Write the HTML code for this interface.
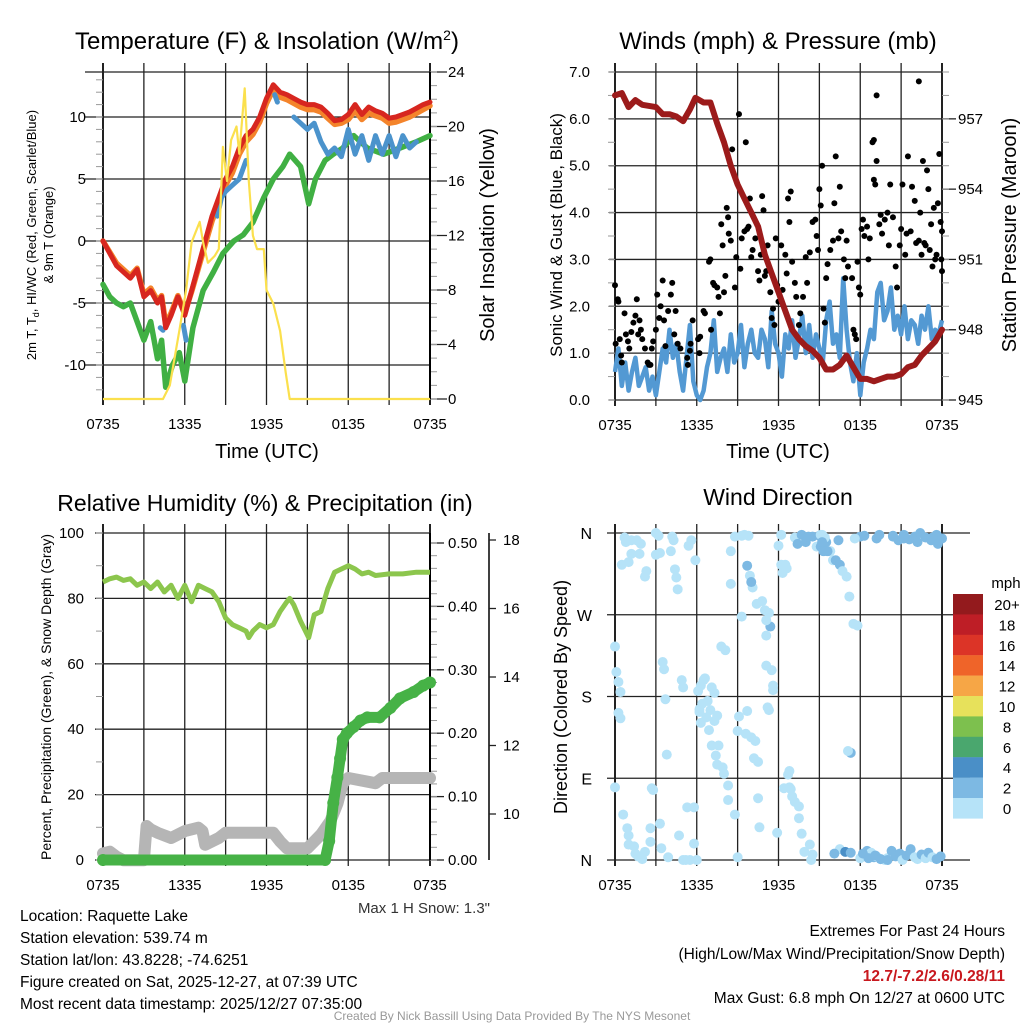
<!DOCTYPE html>
<html><head><meta charset="utf-8"><style>
html,body{margin:0;padding:0;background:#fff;}
svg{display:block;font-family:"Liberation Sans",sans-serif;}
</style></head><body>
<svg id="chart" width="1024" height="1024" viewBox="0 0 1024 1024" xmlns="http://www.w3.org/2000/svg">
<text x="267" y="49" font-size="24" text-anchor="middle">Temperature (F) &amp; Insolation (W/m<tspan dy="-9" font-size="14">2</tspan><tspan dy="9">)</tspan></text>
<text x="778" y="49" font-size="24" text-anchor="middle">Winds (mph) &amp; Pressure (mb)</text>
<text x="265" y="511" font-size="23" text-anchor="middle">Relative Humidity (%) &amp; Precipitation (in)</text>
<text x="778" y="505" font-size="23" text-anchor="middle">Wind Direction</text>
<text x="267" y="458" font-size="20" text-anchor="middle">Time (UTC)</text>
<text x="778" y="458" font-size="20" text-anchor="middle">Time (UTC)</text>
<text transform="translate(36,235) rotate(-90)" font-size="13" text-anchor="middle">2m T, T<tspan font-size="9" dy="3">d</tspan><tspan dy="-3">, HI/WC (Red, Green, Scarlet/Blue)</tspan></text>
<text transform="translate(53,235) rotate(-90)" font-size="13" text-anchor="middle">&amp; 9m T (Orange)</text>
<text transform="translate(494,235) rotate(-90)" font-size="20" text-anchor="middle">Solar Insolation (Yellow)</text>
<text transform="translate(562,235) rotate(-90)" font-size="17" text-anchor="middle">Sonic Wind &amp; Gust (Blue, Black)</text>
<text transform="translate(1016,235) rotate(-90)" font-size="20" text-anchor="middle">Station Pressure (Maroon)</text>
<text transform="translate(51,697) rotate(-90)" font-size="14" text-anchor="middle">Percent, Precipitation (Green), &amp; Snow Depth (Gray)</text>
<text transform="translate(567,697) rotate(-90)" font-size="18" text-anchor="middle">Direction (Colored By Speed)</text>
<text x="490" y="913" font-size="15" text-anchor="end" fill="#333">Max 1 H Snow: 1.3"</text>
<g font-size="15.5">
<text x="20" y="921">Location: Raquette Lake</text>
<text x="20" y="943">Station elevation: 539.74 m</text>
<text x="20" y="965">Station lat/lon: 43.8228; -74.6251</text>
<text x="20" y="987">Figure created on Sat, 2025-12-27, at 07:39 UTC</text>
<text x="20" y="1009">Most recent data timestamp: 2025/12/27 07:35:00</text>
</g>
<g font-size="15.5" text-anchor="end">
<text x="1005" y="936">Extremes For Past 24 Hours</text>
<text x="1005" y="959">(High/Low/Max Wind/Precipitation/Snow Depth)</text>
<text x="1005" y="981" fill="#c8181e" font-weight="bold">12.7/-7.2/2.6/0.28/11</text>
<text x="1005" y="1003">Max Gust: 6.8 mph On 12/27 at 0600 UTC</text>
</g>
<text x="512" y="1020" font-size="12" fill="#999" text-anchor="middle">Created By Nick Bassill Using Data Provided By The NYS Mesonet</text>
</svg>
<script>
// ---- shared ----
const timeTickHours = [0, 6, 12, 18, 24];
const timeTickLabels = ['0735', '1335', '1935', '0135', '0735'];
// ---- temperature panel data ----
const tempT = [0,1,2,2.5,3,3.5,4,4.3,4.6,5,5.5,6,6.5,7,7.5,8,8.5,9,9.5,10,10.5,11,11.5,12,12.5,13,13.5,14,14.5,15,15.5,16,16.5,17,17.5,18,18.5,19,19.5,20,20.5,21,21.5,22,22.5,23,23.5,24];
const redT = [0,-2,-3,-2.3,-4.5,-4,-5,-4.5,-7,-6,-4.5,-6,-4,-2,0,2,3.5,5,6,7.5,8.5,9,10,11.5,12.6,12,11.8,11.5,11.2,11,11,10.8,10.3,9.7,9.8,10.2,11,10.2,10.8,10.5,10.3,9.9,10,10.2,10.4,10.7,11,11.2];
const orangeT = [0,-1.8,-2.8,-2.2,-4.3,-3.8,-4.8,-4.4,-6.7,-5.8,-4.4,-5.8,-4.1,-2.2,-0.3,1.6,3.1,4.5,5.5,7,8,8.6,9.6,11.1,12.2,11.6,11.4,11.1,10.8,10.6,10.6,10.4,9.9,9.4,9.5,9.8,10.5,9.8,10.3,10.1,9.9,9.5,9.6,9.8,10,10.3,10.6,10.9];
const greenTdT = [0,0.5,1,1.5,2,2.5,3,3.5,4,4.3,4.6,5.1,5.6,6,6.6,7.35,8.1,8.8,9.6,10.3,11,11.8,12.5,13.2,13.7,14.5,15.1,15.6,16.3,16.9,17.6,18.4,19.4,20.6,21.8,23,24];
const greenTd = [-3.5,-4.5,-5,-5.3,-5,-6.5,-8,-6.5,-9.5,-8,-11.8,-10,-9,-11.3,-7,-4,-2.5,-1,0,0.5,1.5,3.5,5,6,7,6,3,5,6.5,7,7.5,8.5,7.5,7,7.5,8,8.5];
const blueT = [4.2,4.4,null,5.9,6.1,null,8.4,8.7,9.0,9.5,10.0,10.5,null,12.6,12.8,null,14.0,14.5,15.0,15.5,16.0,16.5,17.0,17.5,18.0,18.5,19.0,19.5,20.0,20.5,21.0,21.5,22.0,22.5,23.0];
const blueWC = [-7,-7.2,null,-6.8,-8,null,2,3.5,4,4.5,5,6.5,null,11.8,11.2,null,10,9.5,9,9.5,8,7,7.5,6.8,9,7,8.5,6.5,8.5,7,8.5,6.8,8.5,7.5,8];
const solarT = [0,4.4,4.9,5.6,6.1,6.5,6.9,7.1,7.35,7.7,8.2,8.5,8.8,9.1,9.4,9.8,10,10.4,10.7,11,11.3,11.8,12,12.5,13,13.4,13.7,24];
const solarW = [0,0,1,5,8,11.5,12.5,13,11.5,10,10.5,11,18.5,16,19,20,18,22.8,16,12,11,11,8,7,5,2,0,0];
const tempTicks = [-10,-5,0,5,10];
const solarTicks = [0,4,8,12,16,20,24];
// ---- wind panel data ----
const windSpeed = [0.6,1.1,0.3,0.8,0.2,0.6,0.9,0.3,0.5,0.7,0.2,0.5,0.1,0.6,1.1,0.8,1.5,0.9,1.2,0.6,0.2,0.9,1.6,0.4,0.1,0.0,0.2,0.7,1.0,1.7,0.6,0.9,1.1,0.6,1.4,0.8,1.0,1.6,0.7,1.2,1.5,1.0,0.9,1.5,1.3,0.7,1.9,1.2,1.0,0.5,1.4,1.1,1.7,0.9,1.3,1.8,1.0,1.6,0.9,1.4,1.1,0.8,1.7,2.1,1.2,1.4,0.9,2.6,1.5,0.8,0.4,1.0,0.1,0.8,1.1,1.5,1.3,2.3,2.5,1.7,1.9,2.4,1.5,1.8,1.4,2.0,1.3,1.7,1.6,1.2,1.8,1.5,2.0,1.3,1.5,1.4,1.7];
const gustT = [0.0,0.05,0.2,0.25,0.35,0.45,0.5,0.7,0.8,0.95,1.05,1.2,1.35,1.5,1.6,1.7,1.8,1.9,2.0,2.2,2.4,2.5,2.6,2.7,2.8,3.0,3.1,3.25,3.35,3.5,3.6,3.7,3.9,4.1,4.2,4.35,4.45,4.6,4.8,5.3,5.35,5.5,5.55,5.7,6.1,6.2,6.25,6.5,6.6,6.9,7.0,7.05,7.2,7.3,7.5,7.6,7.7,7.8,7.9,8.0,8.1,8.2,8.3,8.35,8.5,8.6,8.8,8.9,9.1,9.2,9.3,9.5,9.6,9.7,9.8,9.9,10.0,10.1,10.3,10.5,10.6,10.7,10.8,10.9,11.0,11.1,11.2,11.4,11.5,11.6,11.7,11.8,11.9,12.0,12.2,12.3,12.5,12.6,12.7,12.8,12.9,13.0,13.2,13.3,13.5,13.6,13.8,14.0,14.1,14.3,14.5,14.7,14.8,14.9,15.0,15.1,15.2,15.3,15.4,15.5,15.6,15.8,16.0,16.1,16.2,16.4,16.5,16.6,16.8,16.9,17.0,17.1,17.4,17.5,17.6,17.7,17.8,17.9,18.0,18.1,18.2,18.3,18.5,18.6,18.7,18.9,19.0,19.1,19.2,19.4,19.5,19.6,19.8,20.0,20.1,20.2,20.4,20.6,20.7,20.9,21.0,21.1,21.3,21.4,21.5,21.7,21.8,22.0,22.1,22.3,22.4,22.5,22.6,22.7,22.8,22.9,23.0,23.1,23.2,23.3,23.4,23.5,23.6,23.7,23.8,23.9,24.0,22.3,19.2,24.0,23.95,19.0];
const gustV = [2.45,1.2,2.15,2.1,1.3,0.95,0.8,1.85,1.4,1.25,1.1,1.45,1.65,1.8,2.15,1.4,1.7,1.5,1.3,1.1,0.8,0.75,0.75,1.1,1.25,1.5,2.25,1.75,2.0,2.55,1.7,1.15,1.9,2.25,2.5,1.4,1.9,1.2,1.1,0.9,0.75,1.05,1.2,1.7,1.3,1.0,1.35,1.9,1.85,2.95,3.0,1.5,2.5,2.45,2.4,2.2,1.85,3.75,3.3,2.3,2.65,4.1,3.9,3.55,3.4,5.35,2.4,3.05,6.1,2.8,3.45,3.6,5.5,3.65,3.7,4.3,3.05,3.2,3.45,2.75,2.55,3.1,4.35,4.05,2.65,2.75,3.3,2.3,1.75,1.95,1.6,3.45,2.45,2.1,3.3,2.35,3.1,2.7,4.3,3.8,4.45,2.95,2.5,2.2,1.6,1.85,2.2,3.05,2.5,3.15,3.8,3.85,3.5,3.2,4.5,4.15,5.0,1.95,1.65,2.6,2.9,3.2,3.4,4.2,5.2,3.45,4.55,3.6,3.0,2.6,3.4,2.85,2.6,1.5,1.4,1.3,2.95,2.4,2.25,3.65,3.85,3.5,3.7,3.0,3.45,5.5,4.7,4.6,5.1,3.75,3.95,3.55,3.85,4.0,3.3,4.6,3.9,2.85,2.4,3.3,3.65,4.6,3.1,3.55,5.2,3.6,4.55,4.25,3.35,3.4,4.0,3.1,5.1,3.35,3.3,4.9,4.5,3.2,3.75,2.85,4.1,3.0,3.1,4.2,5.25,3.8,3.6,6.8,6.5,2.75,3.0,5.55];
const presT = [0,0.5,1,1.5,2,3,3.5,4,4.5,5,5.5,5.9,6.5,7,7.5,8,8.5,9,9.5,10,10.5,11,11.5,12,12.5,13,13.5,14,14.5,15,15.5,16,16.5,17,17.5,18,18.5,19,19.5,20,20.5,21,21.5,22,22.5,23,23.5,24];
const presMb = [958,958.1,957.5,957.8,957.6,957.5,957.2,957.2,957.1,956.9,957.4,957.9,957.7,957.7,956.8,956,955,954.2,953.6,953,952.4,951.2,950.4,949.6,948.8,948,947.6,947.3,947.1,946.8,946.3,946.3,946.5,946.9,946.4,945.9,945.9,945.8,945.9,946,946,946.1,946.4,946.5,946.9,947.2,947.5,948];
const windTicks = [0,1,2,3,4,5,6,7];
const presTicks = [945,948,951,954,957];
// ---- humidity panel data ----
const rhT = [0,0.5,1,1.5,2,2.5,3,3.5,4,4.5,5,5.5,6,6.5,7,7.5,8,8.5,9,9.5,10,10.5,10.7,11,11.5,12,12.5,13,13.5,13.7,14,14.5,15.1,15.5,16,16.5,17,17.5,18,18.5,19,19.5,20,21,22,23,24];
const rhV = [85,86,86.5,85.5,86,84,85,83,85,82,84,80,84,79,84,83,82,79,74,72,71,70,68,70,72,71,72,76,79,80,78,73,68,75,76,83,88,89,90,89,87.5,88,87,87.5,87.5,88,88];
const precipT = [0,16.3,16.6,16.9,17.2,17.4,17.6,17.9,18.4,18.9,19.4,20.3,21.1,21.8,22.8,23.5,24];
const precipIn = [0,0,0.03,0.09,0.13,0.16,0.19,0.2,0.21,0.22,0.225,0.225,0.24,0.255,0.265,0.275,0.28];
const snowT = [0,0.5,1,1.5,3,3.2,3.5,4,5,6,7,7.3,7.5,8,8.5,9,12.5,13,13.5,15,15.5,16,16.7,17.2,17.6,18,20,20.5,24];
const snowIn = [8.85,8.9,8.75,8.65,8.65,9.65,9.55,9.45,9.3,9.5,9.6,9.5,9.1,9.2,9.3,9.45,9.45,9.2,9.0,9.0,9.2,9.4,9.8,10.3,10.9,11.05,10.9,11.05,11.05];
const rhTicks = [0,20,40,60,80,100];
const precipTicks = [0,0.1,0.2,0.3,0.4,0.5];
const snowTicks = [10,12,14,16,18];
// ---- wind direction data ----
const dirT = [0,0.1,0.25,0.4,0.25,0.4,0,0.6,0.9,1,1,1.4,1.5,1.7,2,2.2,2.6,2.6,0.7,0.8,1.2,1.6,1.9,0.5,1.0,1.2,1.8,2.2,2.3,3.0,3.2,3.3,3.0,4.2,4.3,4.1,4.4,4.6,4.5,3.5,3.6,3.7,3.8,2.7,2.8,3.3,3.4,3.9,4.7,5,5.2,5.5,5.3,5.8,5.8,6,5.4,5.6,5.9,4.9,5.0,6.1,6.3,6.5,6.2,6.4,6.8,6.3,6.7,6.2,6.6,7.1,7.0,7.3,7.5,7.3,6.9,7.1,7.5,7.9,7.4,7.6,8.3,8.0,8.3,8.8,9.0,8.5,8.8,9.3,7.8,8.1,8.5,9.0,9.1,9.6,9.7,10.0,10.3,10.5,10.2,10.5,10.6,11.4,11.1,11.0,11.3,11.1,11.5,11.1,11.6,11.6,11.2,11.3,9.3,9.5,9.8,9.7,9.9,10.1,10.0,10.4,10.8,12.2,12.0,12.2,12.3,12.5,12.6,11.9,12.4,12.8,12.9,12.7,12.8,13.0,13.2,13.5,13.7,13.5,13.9,14.3,14.5,14.4,13.2,13.4,13.7,14.0,14.2,14.5,15.0,15.2,14.8,15.5,15.8,16.0,15.1,15.4,15.6,16.2,16.5,16.7,17.0,17.2,17.5,17.8,18.0,18.2,18.5,18.8,19.0,19.2,19.5,19.8,20.0,20.3,20.6,20.9,21.1,21.4,21.7,22.0,22.2,22.5,22.8,23.0,23.3,23.6,23.9,18.2,18.6,19.1,19.5,20.0,20.4,20.8,21.2,21.6,22.0,22.4,22.8,23.2,23.6,24.0,18.0,18.3,19.2,19.4,20.4,21.2,22.2,23.3,23.7,15.1,15.3,16.4,17.6,15.2,16.5,16.9,17.3,17.1,17.3,16.1];
const dirD = [235,207,196,185,162,156,80,50,35,27,17,15,7,4,1,9,20,35,355,350,352,352,348,325,328,337,337,312,318,360,357,338,336,356,352,340,320,298,311,218,210,177,116,79,77,40,13,3,27,0,0,0,58,18,58,0,346,352,330,198,190,186,192,198,166,172,175,151,157,163,200,190,165,184,159,153,143,126,105,102,115,126,82,95,66,50,3,340,356,268,235,231,304,142,158,139,164,135,131,108,112,68,36,257,264,275,272,214,209,247,187,192,168,165,357,358,357,324,313,300,306,282,285,358,346,325,316,325,321,30,79,80,78,94,98,70,64,59,29,46,9,17,6,0,355,348,358,350,356,356,357,358,345,350,340,330,358,355,340,330,325,318,312,290,260,258,2,6,10,8,3,4,1,0,2,10,4,7,0,5,12,3,1,6,2,8,3,1,4,7,2,5,1,0,357,352,358,353,356,360,355,352,358,354,356,357,354,358,356,354,350,355,348,345,340,352,354,350,12,9,118,120,8,7,330,14,163,21];
const dirSpd = [1,1,1,1,1,1,1,1,1,1,1,1,1,1,1,1,1,1,1,1,1,1,1,1,1,1,1,1,1,1,1,1,1,1,1,1,1,1,1,1,1,1,1,1,1,1,1,1,1,1,1,1,1,1,1,1,1,1,1,1,1,1,1,1,1,1,1,1,1,1,1,1,1,1,1,1,1,1,1,1,1,1,1,1,1,1,1,1,1,1,1,1,1,1,1,1,1,1,1,1,1,1,1,3,1,1,1,1,1,1,1,1,1,1,1,1,1,3,1,1,3,1,1,1,1,1,1,1,1,1,1,1,1,1,1,1,1,1,1,1,1,1,1,1,1,3,3,3,3,3,3,1,1,3,1,1,1,1,3,3,3,1,1,1,1,1,1,1,3,1,3,1,3,1,1,3,3,3,1,3,3,1,1,3,1,3,1,3,3,3,3,3,3,3,3,3,3,3,3,3,3,3,3,3,3,3,3,3,3,3,3,3,3,3,3,3,1,3,1,5,3,1,3,3];
const colorBarLabels = ['20+','18','16','14','12','10','8','6','4','2','0'];
const colorBarColors = ['#931a1d','#be1e26','#dc3427','#ef6429','#f6a646','#e7e15b','#7dc04e','#4aa76e','#4a8fc7','#7db9e3','#b6e3f8'];
const dirTicks = [0,90,180,270,360];
const dirTickLabels = ['N','E','S','W','N'];

// ---- helpers ----
const NS = 'http://www.w3.org/2000/svg';
const svg = document.getElementById('chart');
function el(tag, attrs, parent) {
  const e = document.createElementNS(NS, tag);
  for (const k in attrs) e.setAttribute(k, attrs[k]);
  (parent || svg).appendChild(e);
  return e;
}
function linScale(d0, d1, r0, r1) { return v => r0 + (v - d0) * (r1 - r0) / (d1 - d0); }
function pathFrom(xs, ys, fx, fy) {
  let d = '', pen = false;
  for (let i = 0; i < xs.length; i++) {
    if (xs[i] === null || ys[i] === null) { pen = false; continue; }
    d += (pen ? 'L' : 'M') + fx(xs[i]).toFixed(1) + ',' + fy(ys[i]).toFixed(1);
    pen = true;
  }
  return d;
}
function frame(g, x0, x1, y0, y1, fx) {
  for (let h = 0; h <= 24; h += 3) {
    const l = el('line', {x1: fx(h), x2: fx(h), y1: y0 - 9, y2: y1 + 6, stroke: '#222', 'stroke-width': (h === 0 || h === 24) ? 2 : 1.3}, g);
    
    
  }
  for (let i = 0; i < timeTickHours.length; i++) {
    const t = el('text', {x: fx(timeTickHours[i]), y: y1 + 30, 'font-size': 15, 'text-anchor': 'middle'}, g);
    t.textContent = timeTickLabels[i];
    
    
  }
}
function hgrid(g, y, x0, x1) {
  const l = el('line', {x1: x0 - 18, x2: x1 + 18, y1: y, y2: y, stroke: '#222', 'stroke-width': 1.3}, g);
  
  
}
function minorTicks(g, x, from, to, step, fy, dir) {
  for (let v = from; v <= to + 1e-9; v += step) {
    const y = fy(v);
    const l = el('line', {x1: x, x2: x + dir * 7, y1: y, y2: y, stroke: '#999', 'stroke-width': 1}, g);
    
    
  }
}
function label(g, x, y, txt, anchor, size, name) {
  const t = el('text', {x: x, y: y, 'font-size': size || 15, 'text-anchor': anchor}, g);
  t.textContent = txt;
  
  
  return t;
}

// ---- Panel 1: temperature ----
(function () {
  const g = el('g', {});
  
  
  const X0 = 103, X1 = 430, Y0 = 72, Y1 = 399;
  const fx = linScale(0, 24, X0, X1);
  const fy = linScale(0, 10, 241, 117);
  const fs = linScale(0, 24, Y1, Y0);
  frame(g, X0, X1, Y0, Y1, fx);
  hgrid(g, Y0, X0, X1 - 18);
  for (const v of tempTicks) { hgrid(g, fy(v), X0, X1 - 18); label(g, 86, fy(v) + 5, String(v), 'end', 15, 'temp-tick-label'); }
  minorTicks(g, X0, -12, 13, 1, fy, -1);
  for (const v of solarTicks) {
    const l = el('line', {x1: X1, x2: X1 + 17, y1: fs(v), y2: fs(v), stroke: '#222', 'stroke-width': 1.3}, g);
    
    
    label(g, 448, fs(v) + 5, String(v), 'start', 15, 'solar-tick-label');
  }
  minorTicks(g, X1, 0, 24, 1, fs, 1);
  const ax = el('line', {x1: X1, x2: X1, y1: Y0, y2: Y1, stroke: '#000', 'stroke-width': 2}, g);
  
  
  const series = [
    [tempT, orangeT, '#f4842b', 5.5, 'orange-9m-temp-line'],
    [greenTdT, greenTd, '#40b043', 5.5, 'green-dewpoint-line'],
    [blueT, blueWC, '#4b93cc', 5, 'blue-windchill-line'],
    [tempT, redT, '#d7261f', 5, 'red-2m-temp-line'],
  ];
  for (const s of series) {
    const p = el('path', {d: pathFrom(s[0], s[1], fx, fy), fill: 'none', stroke: s[2], 'stroke-width': s[3], 'stroke-linejoin': 'round', 'stroke-linecap': 'round'}, g);
    
    
  }
  const sp = el('path', {d: pathFrom(solarT, solarW, fx, fs), fill: 'none', stroke: '#fbe04d', 'stroke-width': 2.2, 'stroke-linejoin': 'round'}, g);
  
  
})();

// ---- Panel 2: winds & pressure ----
(function () {
  const g = el('g', {});
  
  
  const X0 = 615, X1 = 942, Y0 = 72, Y1 = 400;
  const fx = linScale(0, 24, X0, X1);
  const fy = linScale(0, 7, Y1, Y0);
  const fp = linScale(945, 959, Y1, Y0);
  frame(g, X0, X1, Y0, Y1, fx);
  for (const v of windTicks) { hgrid(g, fy(v), X0 + 12, X1 - 18); label(g, 590, fy(v) + 5, v.toFixed(1), 'end', 15, 'wind-tick-label'); }
  minorTicks(g, X0, 0, 7, 0.5, fy, -1);
  for (const v of presTicks) {
    const l = el('line', {x1: X1, x2: X1 + 14, y1: fp(v), y2: fp(v), stroke: '#222', 'stroke-width': 1.3}, g);
    
    
    label(g, 958, fp(v) + 5, String(v), 'start', 15, 'pressure-tick-label');
  }
  minorTicks(g, X1, 945, 959, 1, fp, 1);
  const wt = windSpeed.map((v, i) => i * 24 / (windSpeed.length - 1));
  const wp = el('path', {d: pathFrom(wt, windSpeed, fx, fy), fill: 'none', stroke: '#5399d3', 'stroke-width': 4.5, 'stroke-linejoin': 'round'}, g);
  
  
  for (let i = 0; i < gustT.length; i++) {
    const c = el('circle', {cx: fx(gustT[i]), cy: fy(gustV[i]), r: 3, fill: '#000'}, g);
    
    
  }
  const pp = el('path', {d: pathFrom(presT, presMb, fx, fp), fill: 'none', stroke: '#9c1b1b', 'stroke-width': 6, 'stroke-linejoin': 'round', 'stroke-linecap': 'round'}, g);
  
  
})();

// ---- Panel 3: humidity & precip ----
(function () {
  const g = el('g', {});
  
  
  const X0 = 103, X1 = 430, Y0 = 533, Y1 = 860;
  const fx = linScale(0, 24, X0, X1);
  const fy = linScale(0, 100, Y1, Y0);
  const fpr = linScale(0, 0.5, Y1, 543);
  const fsn = linScale(10, 18, 814, 540);
  frame(g, X0, X1, Y0, Y1, fx);
  for (const v of rhTicks) { hgrid(g, fy(v), X0 + 10, X1 - 18); label(g, 84, fy(v) + 5, String(v), 'end', 15, 'rh-tick-label'); }
  minorTicks(g, X0, 0, 100, 10, fy, -1);
  for (const v of precipTicks) {
    const l = el('line', {x1: X1, x2: X1 + 14, y1: fpr(v), y2: fpr(v), stroke: '#222', 'stroke-width': 1.3}, g);
    
    
    label(g, 448, fpr(v) + 5, v.toFixed(2), 'start', 15, 'precip-tick-label');
  }
  minorTicks(g, X1, 0, 0.5, 0.02, fpr, 1);
  const ax = el('line', {x1: X1, x2: X1, y1: Y0, y2: Y1, stroke: '#000', 'stroke-width': 2}, g);
  
  
  const sax = el('line', {x1: 489, x2: 489, y1: 533, y2: 860, stroke: '#000', 'stroke-width': 1.5}, g);
  
  
  for (const v of snowTicks) {
    const l = el('line', {x1: 489, x2: 496, y1: fsn(v), y2: fsn(v), stroke: '#222', 'stroke-width': 1.3}, g);
    
    
    label(g, 503, fsn(v) + 5, String(v), 'start', 15, 'snow-tick-label');
  }
  const gp = el('path', {d: pathFrom(snowT, snowIn, fx, fsn), fill: 'none', stroke: '#b5b5b5', 'stroke-width': 12, 'stroke-linejoin': 'round', 'stroke-linecap': 'round'}, g);
  
  
  const rp = el('path', {d: pathFrom(rhT, rhV, fx, fy), fill: 'none', stroke: '#8cc64d', 'stroke-width': 5, 'stroke-linejoin': 'round'}, g);
  
  
  const pr = el('path', {d: pathFrom(precipT, precipIn, fx, fpr), fill: 'none', stroke: '#46b246', 'stroke-width': 11, 'stroke-linejoin': 'round', 'stroke-linecap': 'round'}, g);
  
  
  for (let i = 0; i < precipT.length; i++) {
    const c = el('circle', {cx: fx(precipT[i]), cy: fpr(precipIn[i]), r: 6, fill: '#46b246'}, g);
    
    
  }
})();

// ---- Panel 4: wind direction ----
(function () {
  const g = el('g', {});
  
  
  const X0 = 615, X1 = 942, Y0 = 533, Y1 = 860;
  const fx = linScale(0, 24, X0, X1);
  const fy = linScale(0, 360, Y1, Y0);
  frame(g, X0, X1, Y0, Y1, fx);
  for (let i = 0; i < dirTicks.length; i++) {
    hgrid(g, fy(dirTicks[i]), X0 + 10, X1 + 10);
    label(g, 592, fy(dirTicks[i]) + 6, dirTickLabels[i], 'end', 16, 'direction-tick-label');
  }
  for (let i = 0; i < dirT.length; i++) {
    const idx = 10 - Math.min(10, Math.floor(dirSpd[i] / 2));
    const c = el('circle', {cx: fx(dirT[i]), cy: fy(dirD[i]), r: 5, fill: colorBarColors[idx]}, g);
    
    
  }
  label(g, 1006, 588, 'mph', 'middle', 15, 'colorbar-unit-label');
  for (let i = 0; i < colorBarColors.length; i++) {
    const r = el('rect', {x: 953, y: 594 + i * 20.4, width: 30, height: 20.6, fill: colorBarColors[i]}, g);
    
    
    label(g, 1007, 594 + i * 20.4 + 16, colorBarLabels[i], 'middle', 15, 'colorbar-label');
  }
})();
</script>
</body></html>
